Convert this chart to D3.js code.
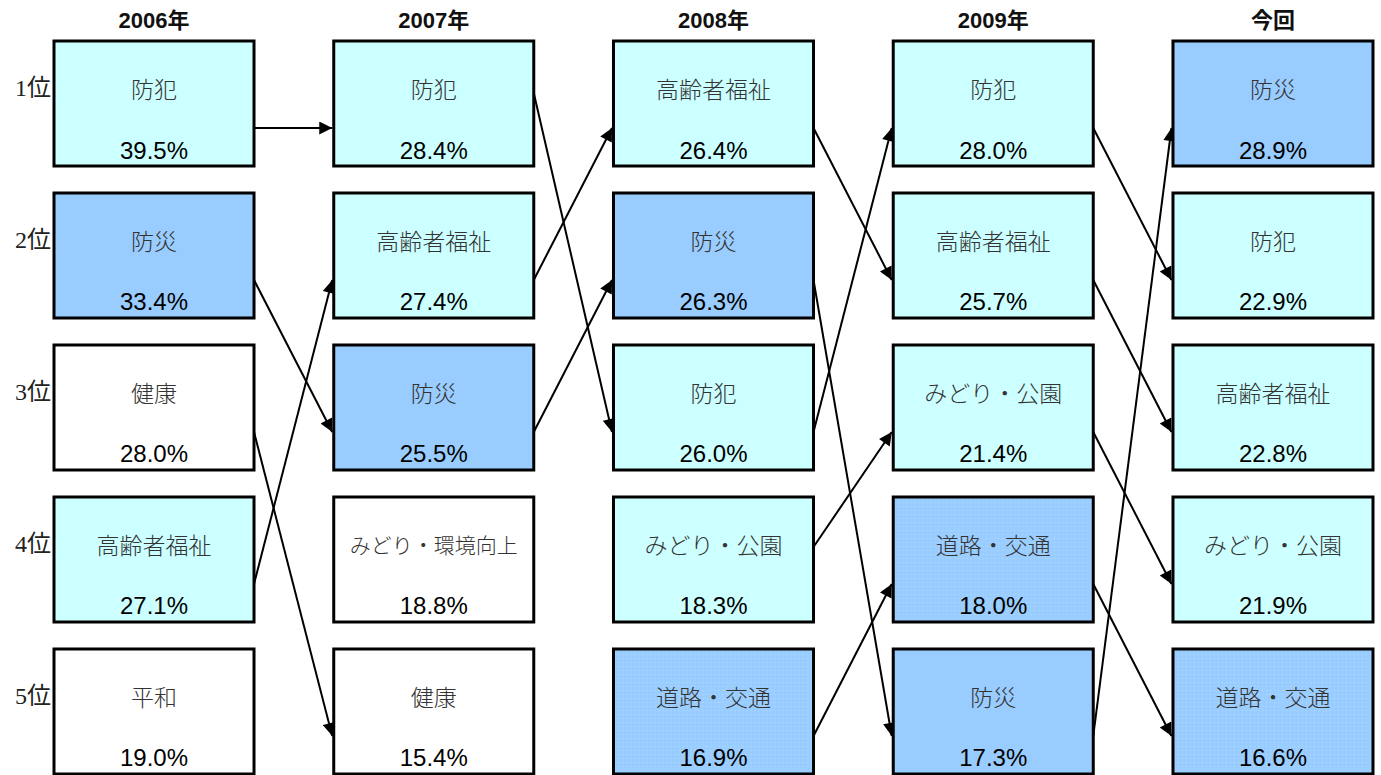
<!DOCTYPE html>
<html>
<head>
<meta charset="utf-8">
<script src="https://cdn.jsdelivr.net/npm/d3@7"></script>
<style>
  body { margin: 0; background: #fff; }
  svg { display: block; }
</style>
</head>
<body>
<div id="chart"></div>
<script>
// 調査年
var years = ["2006年", "2007年", "2008年", "2009年", "今回"];
var ranks = ["1位", "2位", "3位", "4位", "5位"];

// 各年の順位(1位〜5位)と割合
var items2006 = ["防犯", "防災", "健康", "高齢者福祉", "平和"];
var pct2006 = [39.5, 33.4, 28.0, 27.1, 19.0];
var items2007 = ["防犯", "高齢者福祉", "防災", "みどり・環境向上", "健康"];
var pct2007 = [28.4, 27.4, 25.5, 18.8, 15.4];
var items2008 = ["高齢者福祉", "防災", "防犯", "みどり・公園", "道路・交通"];
var pct2008 = [26.4, 26.3, 26.0, 18.3, 16.9];
var items2009 = ["防犯", "高齢者福祉", "みどり・公園", "道路・交通", "防災"];
var pct2009 = [28.0, 25.7, 21.4, 18.0, 17.3];
var itemsNow = ["防災", "防犯", "高齢者福祉", "みどり・公園", "道路・交通"];
var pctNow = [28.9, 22.9, 22.8, 21.9, 16.6];

var allItems = [items2006, items2007, items2008, items2009, itemsNow];
var allPct = [pct2006, pct2007, pct2008, pct2009, pctNow];

// 色
var fillOf = {
  "防犯": "#CCFFFF",
  "高齢者福祉": "#CCFFFF",
  "みどり・公園": "#CCFFFF",
  "防災": "#99CCFF",
  "道路・交通": "#99CCFF",
  "健康": "#FFFFFF",
  "平和": "#FFFFFF",
  "みどり・環境向上": "#FFFFFF"
};
var dotted = ["みどり・公園", "道路・交通"];

var W = 1381, H = 775;
var svg = d3.select("#chart").append("svg")
    .attr("width", W)
    .attr("height", H);

var defs = svg.append("defs");
defs.append("marker")
    .attr("id", "arrow")
    .attr("viewBox", "0 0 10 10")
    .attr("refX", 10)
    .attr("refY", 5)
    .attr("markerUnits", "userSpaceOnUse")
    .attr("markerWidth", 15)
    .attr("markerHeight", 13)
    .attr("orient", "auto")
  .append("path")
    .attr("d", "M0,0L10,5L0,10Z")
    .attr("fill", "#000");

// 点描パターン
["#CCFFFF", "#99CCFF"].forEach(function(c, i){
    var p = defs.append("pattern")
        .attr("id", "dots" + i)
        .attr("width", 4)
        .attr("height", 4)
        .attr("patternUnits", "userSpaceOnUse");
    p.append("rect").attr("width", 4).attr("height", 4).attr("fill", c);
    p.append("rect").attr("x", 1).attr("y", 1).attr("width", 1).attr("height", 1)
        .attr("fill", "#fff").attr("opacity", 0.3);
});

function boxFill(name){
    var c = fillOf[name];
    if(dotted.indexOf(name) >= 0){
        return c == "#CCFFFF" ? "url(#dots0)" : "url(#dots1)";
    }
    return c;
}

var x = d3.scaleBand().domain(years).range([54, 1373]).paddingInner(0.285);
var y = d3.scaleBand().domain(ranks).range([41, 774]).paddingInner(0.1776);
var bw = x.bandwidth(), bh = y.bandwidth();

// 年見出し
svg.selectAll("text.year")
    .data(years)
    .enter().append("text")
    .attr("class", "year")
    .attr("x", function(d){ return x(d) + bw / 2; })
    .attr("y", 20)
    .attr("text-anchor", "middle")
    .attr("dominant-baseline", "central")
    .attr("font-family", "'Liberation Sans', 'Noto Sans CJK JP', sans-serif")
    .attr("font-weight", "bold")
    .attr("font-size", 22)
    .attr("fill", "#111")
    .text(function(d){ return d; });

// 順位
svg.selectAll("text.rank")
    .data(ranks)
    .enter().append("text")
    .attr("class", "rank")
    .attr("x", 51)
    .attr("y", function(d){ return y(d) + 47; })
    .attr("text-anchor", "end")
    .attr("dominant-baseline", "central")
    .attr("font-family", "'Liberation Serif', 'Noto Sans CJK JP', serif")
    .attr("font-size", 24)
    .attr("fill", "#222")
    .text(function(d){ return d; });

// 矢印(翌年にも同じ項目があるもの)
var links = [];
for(var i = 0; i < years.length - 1; i++){
    allItems[i].forEach(function(name, r){
        var r2 = allItems[i + 1].indexOf(name);
        if(r2 >= 0) links.push({from: i, r1: r, r2: r2});
    });
}

// 矢印の付け根(箱の上端からの距離)、既定は87
var anchor = 87;
var startTweak = {"1-0": 52, "2-3": 50};
svg.selectAll("line.link")
    .data(links)
    .enter().append("line")
    .attr("class", "link")
    .attr("x1", function(d){ return x(years[d.from]) + bw; })
    .attr("y1", function(d){
        var k = d.from + "-" + d.r1;
        return y(ranks[d.r1]) + (startTweak[k] != null ? startTweak[k] : anchor);
    })
    .attr("x2", function(d){ return x(years[d.from + 1]) - 1.5; })
    .attr("y2", function(d){ return y(ranks[d.r2]) + anchor; })
    .attr("stroke", "#000")
    .attr("stroke-width", 2)
    .attr("marker-end", "url(#arrow)");

// 箱
var cells = [];
allItems.forEach(function(list, i){
    list.forEach(function(name, r){
        cells.push({year: years[i], rank: ranks[r], name: name, pct: allPct[i][r]});
    });
});

var g = svg.selectAll("g.cell")
    .data(cells)
    .enter().append("g")
    .attr("class", "cell")
    .attr("transform", function(d){ return "translate(" + x(d.year) + "," + y(d.rank) + ")"; });

g.append("rect")
    .attr("width", bw)
    .attr("height", bh)
    .attr("fill", function(d){ return boxFill(d.name); })
    .attr("stroke", "#000")
    .attr("stroke-width", 3);

g.append("text")
    .attr("x", bw / 2)
    .attr("y", 47)
    .attr("text-anchor", "middle")
    .attr("dominant-baseline", "central")
    .attr("font-family", "'Noto Sans CJK JP', sans-serif")
    .attr("font-weight", 300)
    .attr("font-size", function(d){ return d.name.length > 6 ? 21 : 23; })
    .attr("fill", "#333")
    .text(function(d){ return d.name; });

g.append("text")
    .attr("x", bw / 2)
    .attr("y", 109)
    .attr("text-anchor", "middle")
    .attr("dominant-baseline", "central")
    .attr("font-family", "'Liberation Sans', Arial, sans-serif")
    .attr("font-size", 24)
    .attr("fill", "#000")
    .text(function(d){ return d.pct.toFixed(1) + "%"; });
</script>
</body>
</html>
